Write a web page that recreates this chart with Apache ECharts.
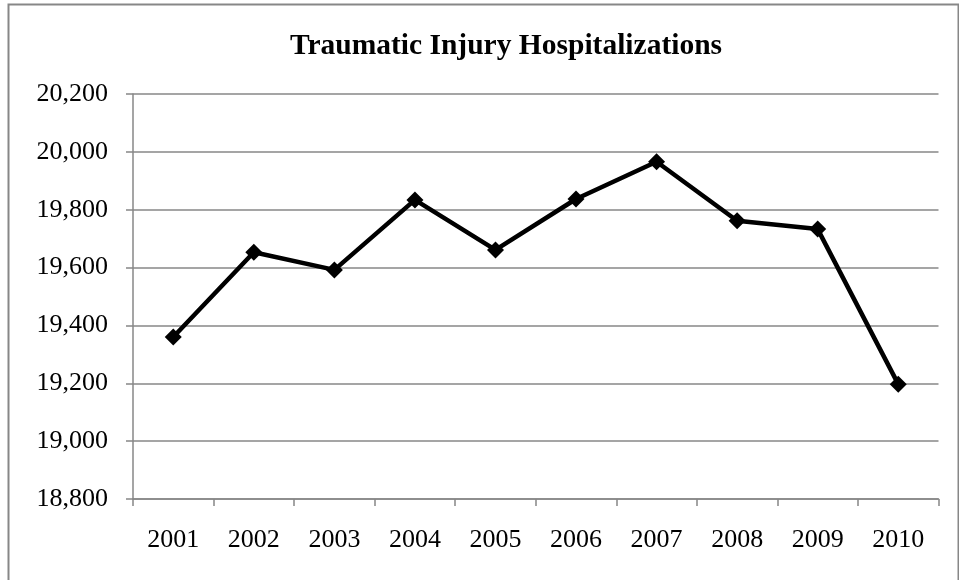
<!DOCTYPE html>
<html>
<head>
<meta charset="utf-8">
<script src="https://cdn.jsdelivr.net/npm/echarts@6/dist/echarts.min.js"></script>
<style>
html,body{margin:0;padding:0;background:#fff;}
#chart{width:959px;height:580px;}
</style>
</head>
<body>
<div id="chart"></div>
<script>
const titleText = 'Traumatic Injury Hospitalizations';
const years = ['2001','2002','2003','2004','2005','2006','2007','2008','2009','2010'];
const hospitalizations = [19360, 19653, 19592, 19834, 19661, 19837, 19966, 19762, 19733, 19197];
const yMin = 18800, yMax = 20200, yStep = 200;

const chart = echarts.init(document.getElementById('chart'));
const serif = '"Liberation Serif", "Times New Roman", serif';
chart.setOption({
  animation: false,
  backgroundColor: '#fff',
  graphic: [
    { type: 'rect', left: 6, top: 2, shape: { x: 0, y: 0, width: 950, height: 600 },
      style: { fill: 'none', stroke: '#878787', lineWidth: 2 }, silent: true },
    { type: 'text', x: 506, y: 46,
      style: { text: titleText, textAlign: 'center', textVerticalAlign: 'middle',
        font: 'bold 29.5px ' + serif, fill: '#000' } }
  ],
  grid: { left: 133, right: 20.5, top: 94, bottom: 81, containLabel: false },
  xAxis: {
    type: 'category', data: years, boundaryGap: true,
    axisLine: { lineStyle: { color: '#878787', width: 1.5 } },
    axisTick: { show: true, length: 7, lineStyle: { color: '#878787', width: 1.5 } },
    axisLabel: { color: '#000', fontFamily: serif, fontSize: 26, margin: 28 },
    splitLine: { show: false }
  },
  yAxis: {
    type: 'value', min: yMin, max: yMax, interval: yStep,
    axisLine: { show: true, lineStyle: { color: '#878787', width: 1.5 } },
    axisTick: { show: true, length: 7, lineStyle: { color: '#878787', width: 1.5 } },
    axisLabel: { color: '#000', fontFamily: serif, fontSize: 26, margin: 25,
      formatter: v => v.toLocaleString('en-US') },
    splitLine: { show: true, lineStyle: { color: '#878787', width: 1.5 } }
  },
  series: [{
    type: 'line', data: hospitalizations,
    lineStyle: { color: '#000', width: 4.5 },
    itemStyle: { color: '#000' },
    symbol: 'diamond', symbolSize: 17, showSymbol: true
  }]
});
</script>
</body>
</html>
